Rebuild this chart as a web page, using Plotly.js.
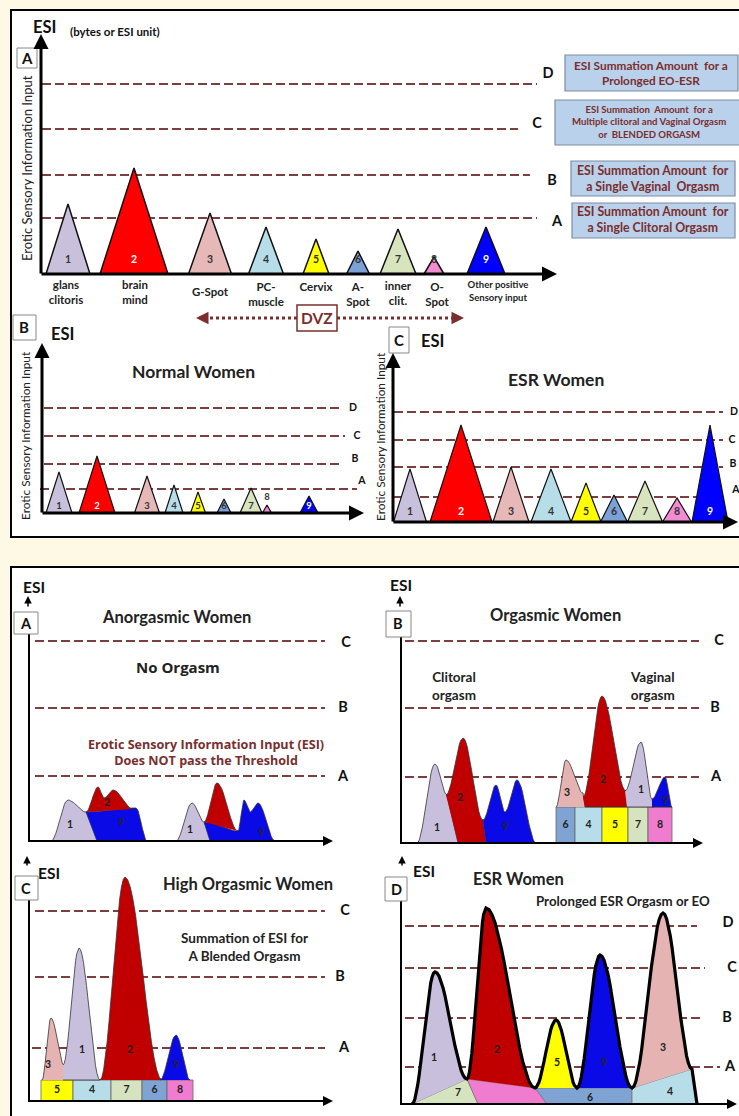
<!DOCTYPE html>
<html><head><meta charset="utf-8">
<script src="https://cdn.plot.ly/plotly-3.0.1.min.js"></script>
<style>html,body{margin:0;padding:0;background:#FEF9E4;}#chart{width:739px;height:1116px;}</style>
</head><body><div id="chart"></div>
<script>
const W = 739, H = 1116;
// ================= DATA =================
const siteNums = ['1','2','3','4','5','6','7','8','9'];
const siteNames = ['glans<br>clitoris','brain<br>mind','G-Spot','PC-<br>muscle','Cervix','A-<br>Spot','inner<br>clit.','O-<br>Spot','Other positive<br>Sensory input'];
const thresholdNames = ['A','B','C','D'];

// Top panel A: sensory sites (centre, base width, ESI height)
const topCenters = [27,93,169,225,275,317,357,393,445];
const topWidths  = [44,68,43,35,26,23,36,20,38];
const topHeights = [70,106,61,47,35,23,45,17,47];
const topThresholds = [56,99,145,190];

// Panel B: Normal women
const normalCenters = [17,55,105,132,156,182,209,225,267];
const normalWidths  = [26,36,25,18,15,14,22,9,18];
const normalHeights = [41,57,37,28,21,14,25,8,17];
const normalThresholds = [24,49,77,105];

// Panel C: ESR women
const esrCenters = [17,68,118,158,193,221,252,284,317];
const esrWidths  = [33,62,36,40,30,27,35,29,36];
const esrHeights = [53,97,55,53,39,27,41,24,97];
const esrThresholds = [25,55,82,110];

// Lower figure thresholds
const anorgThresholds = [65,133,200];
const orgThresholds   = [66,135,202];
const highThresholds  = [53,124,190];
const esrOrgThresholds = [37,86,136,178];

// Lower A: Anorgasmic women (ridge key points + closing base points)
const anorgSite   = [0,8,1,0,8,1];
const anorgRidgeX = [[22,39,57],[57,107,118],[57,69,75,84,104],[147,163,175],[175,209,215,221,229,246],[175,188,209]];
const anorgRidgeY = [[0,41,29],[29,33,0],[29,54,43,51,32],[0,38,19],[19,10,41,29,38,0],[19,58,10]];
const anorgBaseX  = [[68],[68],[],[181],[181],[]];
const anorgBaseY  = [[0],[0],[],[0],[0],[]];
const anorgLabelX = [41,92,78,161,232];
const anorgLabelY = [16,18,38,11,8];
const anorgLabels = ['1','9','2','1','9'];

// Lower B: Orgasmic women
const orgSite   = [0,1,8,2,1,0,8];
const orgRidgeX = [[16,34,46],[45,62,82],[82,95,104,116,135],[155,165,182],[182,201,225],[224,240,251],[251,264,271]];
const orgRidgeY = [[0,79,48],[48,105,23],[23,58,31,63,0],[36,83,50],[46,147,52],[52,101,44],[44,66,36]];
const orgBaseX  = [[57],[85,57],[85],[184],[226,184],[253,226],[251]];
const orgBaseY  = [[0],[0,0],[0],[36],[36,36],[36,36],[36]];
const orgBlockEdges = [155,174,201,227,247,271];
const orgBlockSites = [5,3,4,6,7];
const orgBlockTop = 36;
const orgLabelX = [36,59,104,166,202,240,264];
const orgLabelY = [15,45,16,50,63,53,42];
const orgLabels = ['1','2','9','3','2','1','9'];

// Lower C: High orgasmic women
const highSite   = [2,0,1,8];
const highRidgeX = [[13,22,35],[34,50,71],[71,96,133],[131,147,161]];
const highRidgeY = [[21,83,36],[36,153,21],[21,224,21],[21,66,21]];
const highBaseX  = [[35],[34],[],[]];
const highBaseY  = [[21],[21],[],[]];
const highBlockEdges = [12,44,82,113,138,164];
const highBlockSites = [4,3,6,5,7];
const highBlockTop = 21;
const highLabelX = [19,53,101,147];
const highLabelY = [36,51,51,36];
const highLabels = ['3','1','2','9'];

// Lower D: ESR women
const esrPatchSite = [6,7,5,3];
const esrPatchX = [[11,66,77],[66,134,146,77],[134,231,231,146],[231,291,296,231]];
const esrPatchY = [[0,25,0],[25,16,0,0],[16,16,0,0],[16,35,0,0]];
const esrMountSite = [0,1,4,8,2];
const esrMountX = [[11,34,66],[66,85,134],[134,155,176],[176,199,231],[231,262,291]];
const esrMountY = [[0,132,25],[25,196,16],[16,84,16],[16,149,16],[16,191,35]];
const esrEndX = 296, esrEndY = 0;
const esrLabelX = [33,96,156,203,262,57,189,269];
const esrLabelY = [46,54,41,41,56,11,6,12];
const esrLabels = ['1','2','5','9','3','7','6','4'];

// ================= STYLE =================
const F = 'Lato, "Open Sans", sans-serif';
const topColors = ['#C9C1DC','#FF0000','#E6B9B8','#B7DDE8','#FFFF00','#7BA1D6','#D7E4BD','#F28CD2','#0000FF'];
const lowColors = ['#C7BFDB','#C00000','#E6B3B3','#B7DEE8','#FFFF00','#7FA4D4','#D5E3BF','#F07CCF','#0A0AE6'];
const MAROON = '#7A2E2E', TLINE = '#7B3F3F';

const data = [];
const layout = {width:W, height:H, margin:{l:0,r:0,t:0,b:0}, paper_bgcolor:'#FEF9E4', plot_bgcolor:'rgba(0,0,0,0)',
  showlegend:false, shapes:[], annotations:[], hovermode:false};

function ax(id){ return id===1 ? {x:'x',y:'y'} : {x:'x'+id, y:'y'+id}; }
function panel(id, X0,X1,Y0,Y1,ox,oy){
  const xk = id===1?'xaxis':'xaxis'+id, yk = id===1?'yaxis':'yaxis'+id;
  layout[xk] = {domain:[X0/W, X1/W], range:[X0-ox, X1-ox], visible:false, fixedrange:true, anchor:ax(id).y, showgrid:false, zeroline:false};
  layout[yk] = {domain:[1-Y1/H, 1-Y0/H], range:[oy-Y1, oy-Y0], visible:false, fixedrange:true, anchor:ax(id).x, showgrid:false, zeroline:false};
}
function txt(id, xs, ys, texts, size, color, extra){
  const a = ax(id);
  data.push(Object.assign({type:'scatter', xaxis:a.x, yaxis:a.y, x:xs, y:ys, mode:'text', text:texts,
    textposition:'middle center', textfont:{family:F, size:size, color:color, weight:700}, cliponaxis:false, hoverinfo:'skip'}, extra||{}));
}
function thresholds(id, vals, x0s, x1s, lxs, dys, size, lw){
  const a = ax(id);
  vals.forEach((v,i)=>{
    data.push({type:'scatter', xaxis:a.x, yaxis:a.y, x:[x0s[i], x1s[i]], y:[v,v], mode:'lines',
      line:{color:TLINE, width:lw, dash:'9px,4px'}, hoverinfo:'skip', cliponaxis:false});
  });
  txt(id, lxs, vals.map((v,i)=>v+dys[i]), thresholdNames.slice(0, vals.length), size, '#111');
}
function triangles(id, centers, widths, heights, lw, numY, numSize){
  const a = ax(id);
  centers.forEach((c,i)=>{
    data.push({type:'scatter', xaxis:a.x, yaxis:a.y, x:[c-widths[i]/2, c, c+widths[i]/2, c-widths[i]/2], y:[0, heights[i], 0, 0],
      mode:'lines', fill:'toself', fillcolor:topColors[i], line:{color:'#111', width:lw}, hoverinfo:'skip'});
  });
  txt(id, centers, numY, siteNums, numSize, siteNums.map((s,i)=>(i===1||i===8)?'#ffffff':'#333333'));
}
function ridge(kx, ky, n){
  const xs=[kx[0]], ys=[ky[0]];
  for(let i=0;i<kx.length-1;i++){
    for(let j=1;j<=n;j++){
      const t=j/n, e=(1-Math.cos(Math.PI*t))/2;
      xs.push(kx[i]+(kx[i+1]-kx[i])*t); ys.push(ky[i]+(ky[i+1]-ky[i])*e);
    }
  }
  return [xs,ys];
}
function regions(id, sites, rx, ry, bx, by, lw){
  const a = ax(id);
  sites.forEach((s,i)=>{
    const r = ridge(rx[i], ry[i], 14);
    data.push({type:'scatter', xaxis:a.x, yaxis:a.y, x:r[0].concat(bx[i]), y:r[1].concat(by[i]), mode:'lines', fill:'toself',
      fillcolor:lowColors[s], line:{color:'#333', width:lw}, hoverinfo:'skip'});
  });
}
function blocks(id, edges, sites, top){
  const a = ax(id);
  sites.forEach((s,i)=>{
    const x0=edges[i], x1=edges[i+1];
    data.push({type:'scatter', xaxis:a.x, yaxis:a.y, x:[x0,x1,x1,x0,x0], y:[0,0,top,top,0], mode:'lines', fill:'toself',
      fillcolor:lowColors[s], line:{color:'#666', width:0.8}, hoverinfo:'skip'});
  });
  txt(id, sites.map((s,i)=>(edges[i]+edges[i+1])/2), sites.map(()=>top/2), sites.map(s=>siteNums[s]), 10.5, '#222');
}
// ---------- paper helpers ----------
function rect(x0,y0,x1,y1,fill,lc,lw,layer){
  layout.shapes.push({type:'rect', xref:'paper', yref:'paper', x0:x0/W, x1:x1/W, y0:1-y1/H, y1:1-y0/H,
    fillcolor:fill, line:{color:lc, width:lw}, layer:layer||'above'});
}
function seg(x0,y0,x1,y1,color,w,dash){
  layout.shapes.push({type:'line', xref:'paper', yref:'paper', x0:x0/W, x1:x1/W, y0:1-y0/H, y1:1-y1/H,
    line:{color:color, width:w, dash:dash||'solid'}, layer:'above'});
}
function ann(px,py,text,size,opt){
  layout.annotations.push(Object.assign({xref:'paper', yref:'paper', x:px/W, y:1-py/H, text:text, showarrow:false,
    xanchor:'center', yanchor:'middle', font:{family:F, size:size, color:'#111', weight:700}}, opt||{}));
}
function arrow(hx,hy,tx,ty,w,color){
  layout.annotations.push({xref:'paper', yref:'paper', x:hx/W, y:1-hy/H, ax:tx-hx, ay:ty-hy, axref:'pixel', ayref:'pixel',
    text:'', showarrow:true, arrowhead:2, arrowsize:1, arrowwidth:w, arrowcolor:color||'#000', standoff:0});
}

// ================= FRAMES =================
rect(11,10,760,537,'#ffffff','#000',2,'below');
rect(11,567,760,1140,'#ffffff','#000',2,'below');

// ================= TOP PANEL A =================
panel(1, 12,739,12,340, 41,274);
thresholds(1, topThresholds, [1,1,1,1], [496,489,477,496], [516,511,496,507], [-4,-6,5,10], 14.5, 2);
triangles(1, topCenters, topWidths, topHeights, 1.5, topCenters.map(()=>14), 10.5);
txt(1, [25,94,169,225,275,317,357,396,457], [-20,-20,-19,-22,-14,-22,-21,-22,-18],
  siteNames, siteNames.map((s,i)=>i===8?9.5:11.5), '#222');
arrow(41,34,41,275,3); arrow(557,274,40,274,3);
ann(44,27,'ESI',16.5); ann(115,31,'(bytes or ESI unit)',11.5);
rect(17,48,37,68,'#fff','#888',1); ann(27,58,'A',15);
ann(27,168,'Erotic Sensory Information Input',13,{textangle:-90, font:{family:F,size:13,color:'#222',weight:400}});
// explanation boxes
const boxFill='#B9D1EA', boxLine='#7C8CA3';
rect(565,55,738,91,boxFill,boxLine,1.2); ann(651,73,'ESI Summation Amount  for a<br>Prolonged EO-ESR',11.8,{font:{family:F,size:11.8,color:MAROON,weight:700}});
rect(555,100,745,145,boxFill,boxLine,1.2); ann(649,122,'ESI Summation  Amount  for a<br>Multiple clitoral and Vaginal Orgasm<br>or  BLENDED ORGASM',9.6,{font:{family:F,size:9.6,color:MAROON,weight:700}});
rect(571,161,735,196,boxFill,boxLine,1.2); ann(653,178,'ESI Summation Amount  for<br>a Single Vaginal  Orgasm',12.3,{font:{family:F,size:12.3,color:MAROON,weight:700}});
rect(572,203,735,238,boxFill,boxLine,1.2); ann(653,220,'ESI Summation Amount  for<br>a Single Clitoral Orgasm',12.3,{font:{family:F,size:12.3,color:MAROON,weight:700}});
// DVZ
seg(204,318,297,318,MAROON,3,'dot'); seg(337,318,456,318,MAROON,3,'dot');
arrow(196,318,206,318,2.5,MAROON); arrow(464,318,454,318,2.5,MAROON);
rect(297,305,337,331,'#fff',MAROON,1.5); ann(317,318,'DVZ',15.5,{font:{family:F,size:15.5,color:MAROON,weight:700}});

// ================= TOP PANEL B =================
panel(2, 12,370,341,536, 42,513);
thresholds(2, normalThresholds, [-2,2,2,2], [315,301,303,299], [320,313,315,311], [8,5,0,0], 10.5, 2);
triangles(2, normalCenters, normalWidths, normalHeights, 1.2, [6,6,6,6,6,6,6,15,6], 9.5);
arrow(42,343,42,514,3); arrow(364,513,41,513,3);
rect(13,315,36,340,'#fff','#888',1); ann(24,327,'B',15); ann(62,334,'ESI',16.5);
ann(25,436,'Erotic Sensory Information Input',11.8,{textangle:-90, font:{family:F,size:11.8,color:'#222',weight:400}});
ann(193,371,'Normal Women',17.5,{font:{family:F,size:17.5,color:'#222',weight:700}});

// ================= TOP PANEL C =================
panel(3, 371,739,341,536, 393,522);
thresholds(3, esrThresholds, [1,1,1,1], [330,330,330,330], [343,340,339,341], [7,3,0,0], 10.5, 2);
triangles(3, esrCenters, esrWidths, esrHeights, 1.2, esrCenters.map(()=>10), 10.5);
arrow(393,353,393,523,3); arrow(745,522,392,522,3);
rect(389,327,409,353,'#fff','#888',1); ann(399,340,'C',15); ann(432,341,'ESI',16.5);
ann(381,437,'Erotic Sensory Information Input',11.8,{textangle:-90, font:{family:F,size:11.8,color:'#222',weight:400}});
ann(556,379,'ESR Women',17.5,{font:{family:F,size:17.5,color:'#222',weight:700}});

// ================= LOWER A: Anorgasmic =================
panel(4, 12,370,568,852, 29,841);
thresholds(4, anorgThresholds, [6,6,6], [296,296,296], [314,314,317], [-1,0,-2], 14.5, 1.8);
regions(4, anorgSite, anorgRidgeX, anorgRidgeY, anorgBaseX, anorgBaseY, 0.8);
txt(4, anorgLabelX, anorgLabelY, anorgLabels, 10.5, '#222');
seg(29,634,29,842,'#000',2); arrow(28,596,28,608,1.5); arrow(333,841,28,841,2);
ann(34,587,'ESI',15.5); rect(14,612,38,634,'#fff','#888',1); ann(26,623,'A',14.5);
ann(176,617,'Anorgasmic Women',16.5,{font:{family:F,size:16.5,color:'#222',weight:700}});
ann(178,667,'No Orgasm',15,{font:{family:'"Open Sans", sans-serif',size:15,color:'#222',weight:700}});
ann(206,752,'Erotic Sensory Information Input (ESI)<br>Does NOT pass the Threshold',12.6,{font:{family:'"Open Sans", sans-serif',size:12.6,color:MAROON,weight:700}});

// ================= LOWER B: Orgasmic =================
panel(5, 371,739,568,852, 401,843);
thresholds(5, orgThresholds, [4,4,4], [298,298,298], [315,314,318], [0,0,0], 14.5, 1.8);
blocks(5, orgBlockEdges, orgBlockSites, orgBlockTop);
regions(5, orgSite, orgRidgeX, orgRidgeY, orgBaseX, orgBaseY, 0.8);
txt(5, orgLabelX, orgLabelY, orgLabels, 10.5, '#222');
seg(401,637,401,844,'#000',2); arrow(400,596,400,608,1.5); arrow(703,843,400,843,2);
ann(401,585,'ESI',15.5); rect(386,611,411,637,'#fff','#888',1); ann(398,624,'B',14.5);
ann(555,615,'Orgasmic Women',16.5,{font:{family:F,size:16.5,color:'#222',weight:700}});
ann(454,686,'Clitoral<br>orgasm',13.5,{font:{family:F,size:13.5,color:'#222',weight:700}});
ann(652,686,'Vaginal<br>orgasm',13.5,{font:{family:F,size:13.5,color:'#222',weight:700}});

// ================= LOWER C: High orgasmic =================
panel(6, 12,370,853,1116, 29,1101);
thresholds(6, highThresholds, [3,6,6], [296,296,296], [315,311,316], [0,0,0], 14.5, 1.8);
blocks(6, highBlockEdges, highBlockSites, highBlockTop);
regions(6, highSite, highRidgeX, highRidgeY, highBaseX, highBaseY, 0.8);
txt(6, highLabelX, highLabelY, highLabels, 10.5, '#222');
seg(29,900,29,1102,'#000',2); arrow(27,856,27,867,1.5); arrow(333,1101,28,1101,2);
ann(49,873,'ESI',15.5); rect(15,876,38,900,'#fff','#888',1); ann(26,888,'C',14.5);
ann(248,884,'High Orgasmic Women',16.5,{font:{family:F,size:16.5,color:'#222',weight:700}});
ann(244,947,'Summation of ESI for<br>A Blended Orgasm',13.5,{font:{family:F,size:13.5,color:'#222',weight:700}});

// ================= LOWER D: ESR =================
panel(7, 371,739,853,1116, 401,1104);
thresholds(7, esrOrgThresholds, [4,4,4,4], [319,302,304,296], [329,326,331,327], [0,0,0,3], 14.5, 1.8);
(function(){
  const a = ax(7);
  esrPatchSite.forEach((s,i)=>{
    data.push({type:'scatter', xaxis:a.x, yaxis:a.y, x:esrPatchX[i].concat([esrPatchX[i][0]]), y:esrPatchY[i].concat([esrPatchY[i][0]]),
      mode:'lines', fill:'toself', fillcolor:lowColors[s], line:{color:'#777', width:0.8}, hoverinfo:'skip'});
  });
  const ox=[], oy=[];
  esrMountSite.forEach((s,i)=>{
    const r = ridge(esrMountX[i], esrMountY[i], 16);
    data.push({type:'scatter', xaxis:a.x, yaxis:a.y, x:r[0], y:r[1], mode:'lines', fill:'toself',
      fillcolor:lowColors[s], line:{color:'#777', width:0.8}, hoverinfo:'skip'});
    r[0].forEach((v,k)=>{ ox.push(v); oy.push(r[1][k]); });
  });
  ox.push(esrEndX); oy.push(esrEndY);
  data.push({type:'scatter', xaxis:a.x, yaxis:a.y, x:ox, y:oy, mode:'lines', line:{color:'#000', width:3.2}, hoverinfo:'skip'});
})();
txt(7, esrLabelX, esrLabelY, esrLabels, 10.5, '#222');
seg(401,901,401,1105,'#000',2); arrow(402,856,402,867,1.5); arrow(737,1104,400,1104,2);
ann(424,871,'ESI',15.5); rect(385,877,407,901,'#fff','#888',1); ann(396,889,'D',14.5);
ann(518,879,'ESR Women',16.5,{font:{family:F,size:16.5,color:'#222',weight:700}});
ann(623,901,'Prolonged ESR Orgasm or EO',13.3,{font:{family:F,size:13.3,color:'#222',weight:700}});

Plotly.newPlot('chart', data, layout, {staticPlot:true, displayModeBar:false});
</script></body></html>
